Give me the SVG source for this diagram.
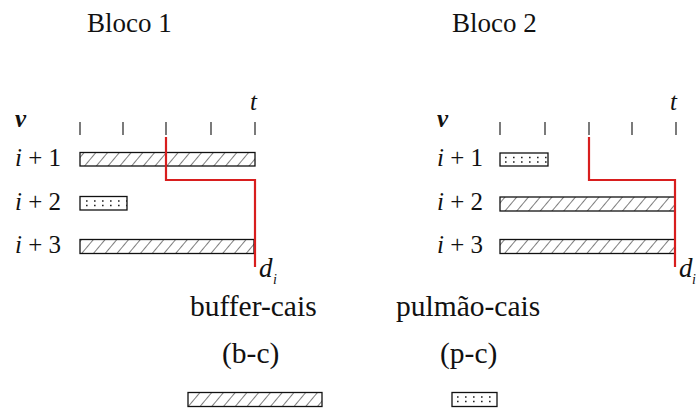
<svg xmlns="http://www.w3.org/2000/svg" width="696" height="414" viewBox="0 0 696 414" font-family="'Liberation Serif', 'Times New Roman', 'DejaVu Serif', serif">
<defs>
<pattern id="hatch" patternUnits="userSpaceOnUse" width="9" height="9" patternTransform="rotate(40)">
<line x1="0" y1="-1" x2="0" y2="10" stroke="#111" stroke-width="1.1"/>
</pattern>
<style>
text{fill:#111}
.title{font-size:27px}
.lab{font-size:29.5px}
.row{font-size:25px}
.it{font-style:italic}
.hbar{fill:url(#hatch);stroke:#111;stroke-width:1.3}
.dbox{fill:#fff;stroke:#111;stroke-width:1.3}
.dots{stroke:#222;stroke-width:1.6;stroke-dasharray:1.6 6.4}
.tick{stroke:#222;stroke-width:1.2}
.red{fill:none;stroke:#d81e1e;stroke-width:2.2}
</style>
</defs>
<rect width="696" height="414" fill="#fff"/>

<g id="block1">
<text class="title" x="87" y="32">Bloco 1</text>
<text class="row it" x="15" y="127" font-weight="bold">v</text>
<text class="row it" x="250" y="110">t</text>
<g class="tick">
<line x1="80" y1="122" x2="80" y2="135"/>
<line x1="123" y1="122" x2="123" y2="135"/>
<line x1="166" y1="122" x2="166" y2="135"/>
<line x1="211" y1="122" x2="211" y2="135"/>
<line x1="255" y1="122" x2="255" y2="135"/>
</g>
<g id="b1-r1"><text class="row" x="15" y="166"><tspan class="it">i</tspan> + 1</text>
<rect class="hbar" x="80" y="152.5" width="175" height="13.5"/></g>
<g id="b1-r2"><text class="row" x="15" y="210"><tspan class="it">i</tspan> + 2</text>
<rect class="dbox" x="80" y="196.5" width="47" height="13.5"/>
<line class="dots" x1="86" y1="201" x2="127" y2="201"/>
<line class="dots" x1="86" y1="205.5" x2="127" y2="205.5"/></g>
<g id="b1-r3"><text class="row" x="15" y="253"><tspan class="it">i</tspan> + 3</text>
<rect class="hbar" x="80" y="239.5" width="174" height="14"/></g>
<text class="it" x="259" y="277" font-size="27">d</text>
<text class="it" x="273" y="284" font-size="14">i</text>
</g>

<g id="block2">
<text class="title" x="452" y="32">Bloco 2</text>
<text class="row it" x="437" y="127" font-weight="bold">v</text>
<text class="row it" x="670" y="110">t</text>
<g class="tick">
<line x1="500" y1="122" x2="500" y2="135"/>
<line x1="545" y1="122" x2="545" y2="135"/>
<line x1="589" y1="122" x2="589" y2="135"/>
<line x1="632" y1="122" x2="632" y2="135"/>
<line x1="676" y1="122" x2="676" y2="135"/>
</g>
<g id="b2-r1"><text class="row" x="437" y="166"><tspan class="it">i</tspan> + 1</text>
<rect class="dbox" x="500" y="153" width="48" height="13"/>
<line class="dots" x1="505" y1="157.5" x2="548" y2="157.5"/>
<line class="dots" x1="505" y1="162" x2="548" y2="162"/></g>
<g id="b2-r2"><text class="row" x="437" y="210"><tspan class="it">i</tspan> + 2</text>
<rect class="hbar" x="500" y="197" width="175" height="14"/></g>
<g id="b2-r3"><text class="row" x="437" y="253"><tspan class="it">i</tspan> + 3</text>
<rect class="hbar" x="500" y="239.5" width="175" height="14"/></g>
<text class="it" x="679" y="277" font-size="27">d</text>
<text class="it" x="692" y="284" font-size="14">i</text>
</g>

<g id="connectors">
<polyline class="red" points="166,137 166,180 255,180 255,267"/>
<polyline class="red" points="589,137 589,180 675,180 675,267"/>
</g>

<g id="legend-bc">
<text class="lab" x="190" y="316">buffer-cais</text>
<text class="lab" x="222" y="363">(b-c)</text>
<rect class="hbar" x="188" y="392.5" width="134" height="14"/>
</g>
<g id="legend-pc">
<text class="lab" x="396" y="316">pulmão-cais</text>
<text class="lab" x="440" y="363">(p-c)</text>
<rect class="dbox" x="452" y="392.5" width="45" height="14"/>
<line class="dots" x1="457" y1="397" x2="497" y2="397"/>
<line class="dots" x1="457" y1="401.5" x2="497" y2="401.5"/>
</g>
</svg>
